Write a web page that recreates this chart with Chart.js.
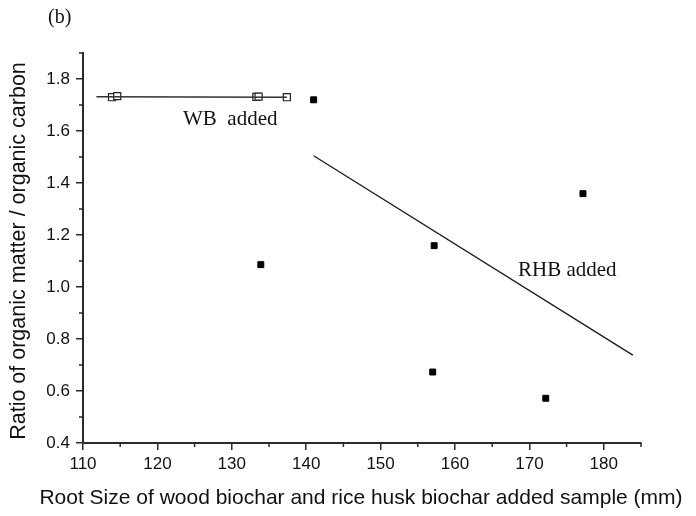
<!DOCTYPE html>
<html>
<head>
<meta charset="utf-8">
<script src="https://cdn.jsdelivr.net/npm/chart.js@4.4.1/dist/chart.umd.min.js"></script>
<style>
  html, body { margin: 0; padding: 0; background: #fff; }
  #wrap { width: 696px; height: 516px; }
</style>
</head>
<body>
<div id="wrap"><canvas id="chart" width="696" height="516"></canvas></div>
<script>
// WB added sample (open squares) and its fit line
const wbX = [113.9, 114.6, 133.3, 133.6, 137.4];
const wbY = [1.730, 1.734, 1.731, 1.732, 1.730];
const wbFitX = [111.8, 137.4];
const wbFitY = [1.732, 1.730];

// RHB added sample (filled squares) and its fit line
const rhbX = [141.0, 133.9, 157.2, 177.2, 157.0, 172.2];
const rhbY = [1.720, 1.086, 1.159, 1.359, 0.673, 0.572];
const rhbFitX = [141.0, 183.9];
const rhbFitY = [1.505, 0.738];

const xMin = 110, xMax = 185;
const yMin = 0.4, yMax = 1.9;

function toPoints(xs, ys) {
    return xs.map((x, i) => ({ x: x, y: ys[i] }));
}

const axisColor = "#2a2a2a";
const tickFont = "'Liberation Sans Narrow', 'Arial Narrow', 'Liberation Sans', sans-serif";

// minor ticks, axis titles and annotations
const extras = {
    id: "extras",
    afterDraw(chart) {
        const ctx = chart.ctx;
        const xs = chart.scales.x;
        const ys = chart.scales.y;
        const area = chart.chartArea;
        ctx.save();
        ctx.strokeStyle = axisColor;
        ctx.lineWidth = 1.5;
        ctx.beginPath();
        for (let v = 115; v <= xMax; v += 10) {
            const px = xs.getPixelForValue(v);
            ctx.moveTo(px, area.bottom);
            ctx.lineTo(px, area.bottom + 4);
        }
        for (let v = 0.5; v <= yMax + 0.001; v += 0.2) {
            const py = ys.getPixelForValue(v);
            ctx.moveTo(area.left, py);
            ctx.lineTo(area.left - 4, py);
        }
        ctx.stroke();

        ctx.fillStyle = "#111";
        ctx.font = "21px 'Liberation Sans', Arial, sans-serif";
        ctx.textAlign = "center";
        ctx.textBaseline = "alphabetic";
        ctx.fillText("Root Size of wood biochar and rice husk biochar added sample (mm)", 361, 504);

        ctx.save();
        ctx.translate(25, 251);
        ctx.rotate(-Math.PI / 2);
        ctx.font = "21.5px 'Liberation Sans', Arial, sans-serif";
        ctx.fillText("Ratio of organic matter / organic carbon", 0, 0);
        ctx.restore();

        ctx.font = "21px 'Liberation Serif', 'Times New Roman', serif";
        ctx.textAlign = "left";
        ctx.fillText("WB  added", 183, 125);
        ctx.fillText("RHB added", 518, 276);
        ctx.font = "20px 'Liberation Serif', 'Times New Roman', serif";
        ctx.fillText("(b)", 48, 23);
        ctx.restore();
    }
};

const ctx = document.getElementById("chart").getContext("2d");
new Chart(ctx, {
    type: "scatter",
    data: {
        datasets: [
            {
                label: "WB fit",
                data: toPoints(wbFitX, wbFitY),
                showLine: true,
                borderColor: "#333",
                borderWidth: 1.4,
                pointRadius: 0
            },
            {
                label: "RHB fit",
                data: toPoints(rhbFitX, rhbFitY),
                showLine: true,
                borderColor: "#1a1a1a",
                borderWidth: 1.3,
                pointRadius: 0
            },
            {
                label: "WB added",
                data: toPoints(wbX, wbY),
                pointStyle: "rect",
                pointRadius: 5,
                backgroundColor: "#fff",
                borderColor: "#222",
                borderWidth: 1.2
            },
            {
                label: "RHB added",
                data: toPoints(rhbX, rhbY),
                pointStyle: "rect",
                pointRadius: 4.2,
                backgroundColor: "#000",
                borderColor: "#000",
                borderWidth: 1
            }
        ]
    },
    options: {
        responsive: false,
        animation: false,
        layout: { padding: { left: 0, right: 55, top: 53, bottom: 0 } },
        plugins: {
            legend: { display: false },
            tooltip: { enabled: false }
        },
        scales: {
            x: {
                type: "linear",
                min: xMin,
                max: xMax,
                afterFit: scale => { scale.height = 73; },
                border: { display: true, color: axisColor, width: 2 },
                grid: { drawOnChartArea: false, drawTicks: true, tickLength: 7, color: axisColor, lineWidth: 1.5 },
                ticks: {
                    stepSize: 10,
                    includeBounds: false,
                    maxRotation: 0,
                    padding: 4,
                    color: "#111",
                    font: { family: tickFont, size: 17 }
                }
            },
            y: {
                type: "linear",
                min: yMin,
                max: yMax,
                afterFit: scale => { scale.width = 83; },
                border: { display: true, color: axisColor, width: 2 },
                grid: { drawOnChartArea: false, drawTicks: true, tickLength: 7, color: axisColor, lineWidth: 1.5 },
                ticks: {
                    stepSize: 0.2,
                    includeBounds: false,
                    padding: 6,
                    color: "#111",
                    font: { family: tickFont, size: 17 },
                    callback: v => v.toFixed(1)
                }
            }
        }
    },
    plugins: [extras]
});
</script>
</body>
</html>
